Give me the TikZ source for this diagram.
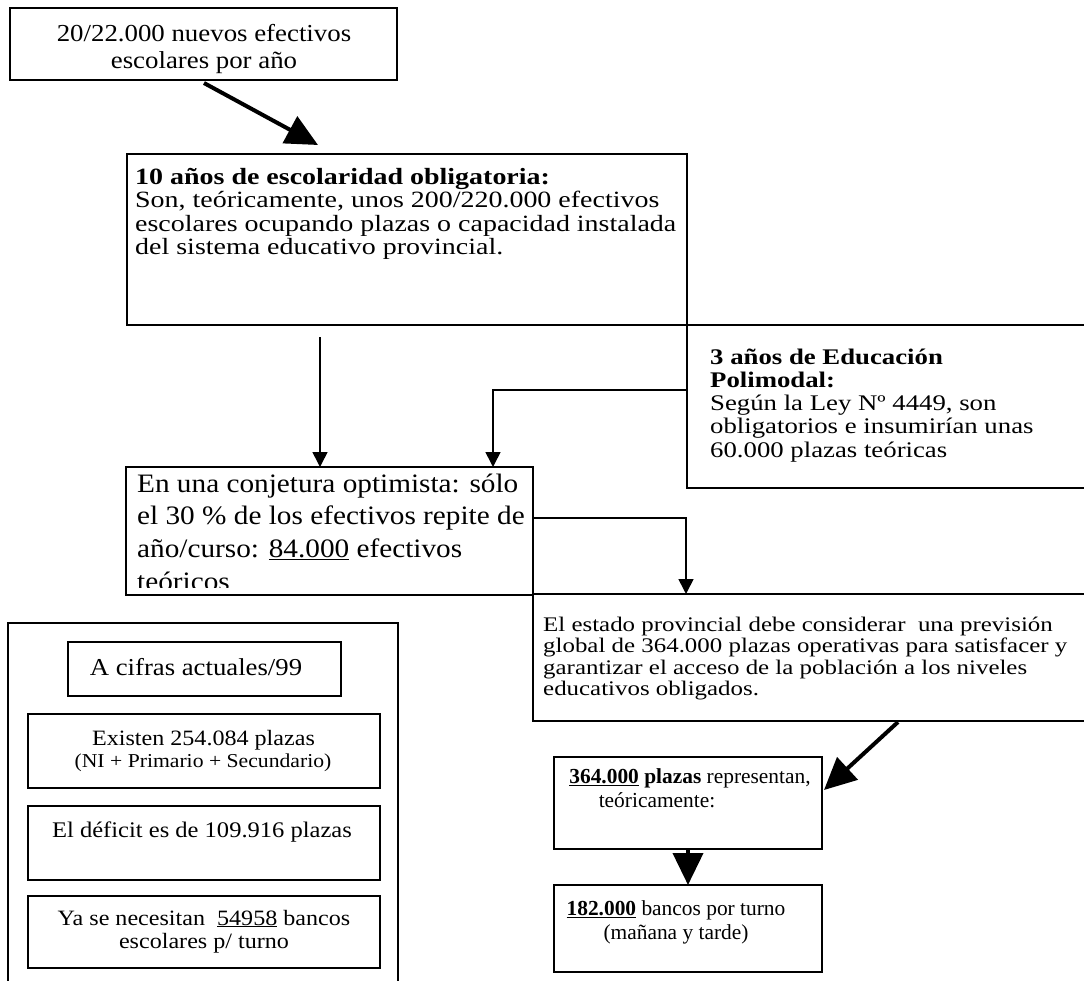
\documentclass[tikz,border=0pt]{standalone}
\usepackage{fontspec}
\setmainfont{Liberation Serif}[FakeStretch=1.1]
\newfontfamily\narrowser{Liberation Serif}[FakeStretch=1.2]
\newfontfamily\plainser{Liberation Serif}
\usetikzlibrary{arrows.meta,calc}
\begin{document}
\begin{tikzpicture}[x=1pt,y=-1pt,
  box/.style={draw,line width=1.6pt,inner sep=0pt,outer sep=0pt,anchor=north west},
  txt/.style={inner sep=0pt,anchor=base west,align=left},
  ctxt/.style={inner sep=0pt,anchor=base,align=center},
  conn/.style={line width=1.6pt,-{Triangle[length=15pt,width=15pt]}},
  bigarrow/.style={line width=4pt,-{Triangle[length=32pt,width=30pt]}},
]
\useasboundingbox (0,0) rectangle (1084,980);
\clip (0,0) rectangle (1084,980);

% boxes
\node[box,minimum width=387pt,minimum height=72pt] (top) at (10,8) {};
\node[box,minimum width=560pt,minimum height=171pt] (b2) at (127,154) {};
\node[box,minimum width=450pt,minimum height=163pt] (poli) at (687,325) {};
\node[box,minimum width=407pt,minimum height=128pt] (conj) at (126,467) {};
\node[box,minimum width=600pt,minimum height=127pt] (prov) at (533,594) {};
\node[box,minimum width=390pt,minimum height=400pt] (outer) at (8,623) {};
\node[box,minimum width=273pt,minimum height=54pt] (cif) at (68,642) {};
\node[box,minimum width=352pt,minimum height=74pt] (exi) at (28,714) {};
\node[box,minimum width=352pt,minimum height=74pt] (def) at (28,806) {};
\node[box,minimum width=352pt,minimum height=72pt] (ya) at (28,896) {};
\node[box,minimum width=268pt,minimum height=92pt] (b364) at (554,757) {};
\node[box,minimum width=268pt,minimum height=87pt] (b182) at (554,885) {};

% texts (anchor = baseline of the last line)
\node[ctxt,font=\fontsize{24.4}{27}\selectfont] (ttop) at (204,68)
  {20/22.000 nuevos efectivos\\escolares por año};
\node[txt,font=\narrowser\fontsize{23.3}{23.5}\selectfont] (t2) at (135,254.5)
  {\textbf{10 años de escolaridad obligatoria:}\\Son, teóricamente, unos 200/220.000 efectivos\\escolares ocupando plazas o capacidad instalada\\del sistema educativo provincial.};
\node[txt,font=\narrowser\fontsize{22.3}{23.3}\selectfont] (tpoli) at (710,457.2)
  {\textbf{3 años de Educación}\\\textbf{Polimodal:}\\Según la Ley Nº 4449, son\\obligatorios e insumirían unas\\60.000 plazas teóricas};
\begin{scope}
\clip (126,467) rectangle (533,587);
\node[txt,font=\fontsize{26.6}{32.7}\selectfont] (tconj) at (137,590.1)
  {En una conjetura optimista: sólo\\el 30 \% de los efectivos repite de\\año/curso: \underline{84.000} efectivos\\teóricos};
\end{scope}
\node[txt,font=\narrowser\fontsize{20.75}{21.5}\selectfont] (tprov) at (543,695.5)
  {El estado provincial debe considerar\ \ una previsión\\global de 364.000 plazas operativas para satisfacer y\\garantizar el acceso de la población a los niveles\\educativos obligados.};
\node[ctxt,font=\fontsize{24.3}{26}\selectfont] (tcif) at (196,675) {A cifras actuales/99};
\node[ctxt,font=\fontsize{21.9}{22}\selectfont] (texi) at (203.5,745) {Existen 254.084 plazas};
\node[ctxt,font=\fontsize{19.7}{20}\selectfont] (tni) at (203,767) {(NI + Primario + Secundario)};
\node[ctxt,font=\fontsize{22.3}{24}\selectfont] (tdef) at (202,837) {El déficit es de 109.916 plazas};
\node[ctxt,font=\fontsize{21.9}{23}\selectfont] (tya) at (204,948)
  {Ya se necesitan\ \ \underline{54958} bancos\\escolares p/ turno};
\node[ctxt,font=\plainser\fontsize{21.4}{24}\selectfont] (t364) at (690,807)
  {\textbf{\underline{364.000} plazas} representan,\\teóricamente:\hspace*{66pt}};
\node[ctxt,font=\plainser\fontsize{21.4}{24}\selectfont] (t182) at (676,939)
  {\textbf{\underline{182.000}} bancos por turno\\(mañana y tarde)};

% connectors
\coordinate (a1s) at (204,83);
\coordinate (a1e) at (318,145);
\draw[bigarrow] (a1s) -- (a1e);
\coordinate (c2) at (320,337);
\draw[conn] (c2) -- (c2 |- conj.north);
\draw[conn] ($(poli.north west)+(0,65)$) -| ($(conj.north west)+(367,0)$);
\draw[conn] ($(conj.north east)+(0,51)$) -| ($(prov.north west)+(153,0)$);
\coordinate (a5s) at (898,722);
\coordinate (a5e) at (824,790);
\draw[bigarrow] (a5s) -- (a5e);
\coordinate (a6s) at ($(b364.south west)+(134,1)$);
\draw[bigarrow] (a6s) -- (a6s |- b182.north);
\end{tikzpicture}
\end{document}
